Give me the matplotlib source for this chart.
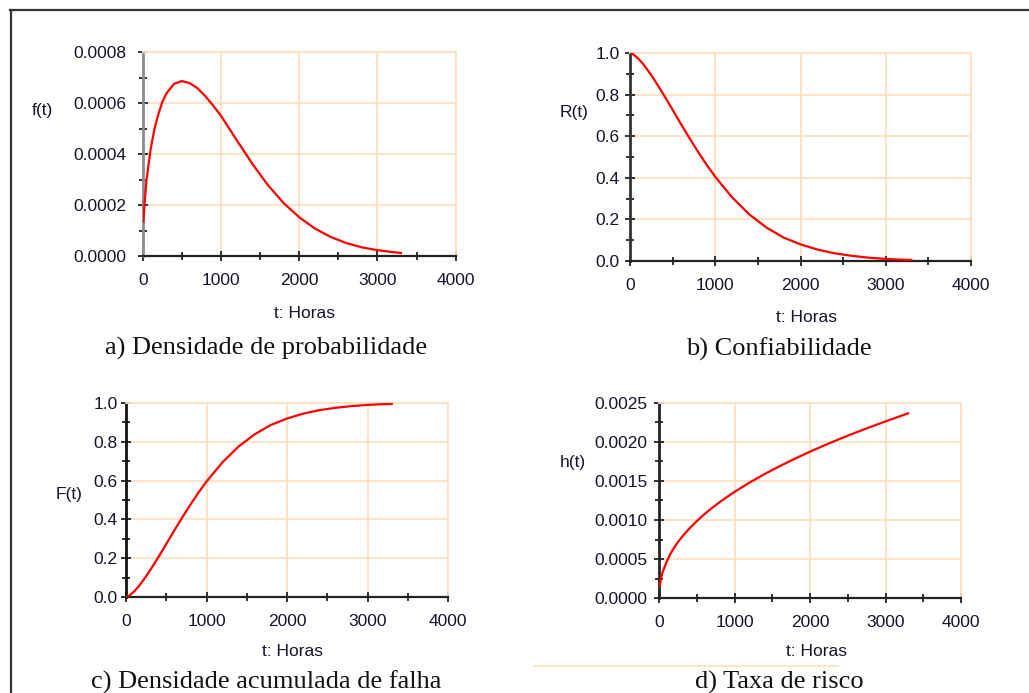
import matplotlib
matplotlib.use("Agg")
import matplotlib.pyplot as plt
from matplotlib.lines import Line2D
from matplotlib.ticker import MultipleLocator, FormatStrFormatter

# values (t in hours)
t_hours = [10, 25, 50, 100, 150, 200, 250, 300, 400, 500, 600, 700, 800, 900, 1000,
           1200, 1400, 1600, 1800, 2000, 2200, 2400, 2600, 2800, 3000, 3200, 3300]
f_density = [0.000135, 0.000213, 0.000300, 0.000416, 0.000498, 0.000556, 0.000603,
             0.000636, 0.000675, 0.000686, 0.000678, 0.000658, 0.000627, 0.000590,
             0.000550, 0.000455, 0.000362, 0.000278, 0.000208, 0.000152, 0.000108,
             0.000075, 0.000051, 0.000034, 0.000023, 0.000015, 0.000012]
r_reliab = [0.999, 0.996, 0.990, 0.972, 0.949, 0.922, 0.893, 0.862, 0.796, 0.727,
            0.657, 0.589, 0.524, 0.462, 0.405, 0.305, 0.224, 0.161, 0.113, 0.080,
            0.055, 0.037, 0.025, 0.016, 0.010, 0.006, 0.005]
f_cumul = [0.001, 0.004, 0.010, 0.028, 0.051, 0.078, 0.107, 0.138, 0.204, 0.273,
           0.343, 0.411, 0.476, 0.538, 0.595, 0.695, 0.776, 0.839, 0.887, 0.920,
           0.945, 0.963, 0.975, 0.984, 0.990, 0.994, 0.995]
h_hazard = [0.000150, 0.000245, 0.000339, 0.000460, 0.000564, 0.000645, 0.000715,
            0.000778, 0.000889, 0.000986, 0.001073, 0.001153, 0.001226, 0.001295,
            0.001360, 0.001480, 0.001590, 0.001691, 0.001786, 0.001876, 0.001961,
            0.002042, 0.002119, 0.002193, 0.002264, 0.002333, 0.002368]

ylabels = ["f(t)", "R(t)", "F(t)", "h(t)"]
captions = ["a) Densidade de probabilidade", "b) Confiabilidade",
            "c) Densidade acumulada de falha", "d) Taxa de risco"]

W, H = 1029, 693
SANS = "Liberation Sans"
SERIF = "Liberation Serif"
TXT = "#14142e"
GRID = "#fde0c2"


def px(x, y):
    return x / W, 1 - y / H


fig = plt.figure(figsize=(W / 100, H / 100), dpi=100)
fig.patch.set_facecolor("white")

# (left, top, right, bottom) in pixels, ymax, major, minor, fmt, ypad, yspine colour
panels = [
    ((142.7, 52, 455.7, 256), f_density, 0.0008, 0.0002, 0.0001, "%.4f", 8.4, "#8c8c8c"),
    ((630, 53, 971, 261), r_reliab, 1.0, 0.2, 0.1, "%.1f", 4.1, "#333333"),
    ((126, 403, 448, 597), f_cumul, 1.0, 0.2, 0.1, "%.1f", 2.3, "#111111"),
    ((659, 403, 961, 598), h_hazard, 0.0025, 0.0005, 0.00025, "%.4f", 4.9, "#222222"),
]

for (l, t, r, b), yvals, ymax, major, minor, fmt, ypad, ycol in panels:
    x0, y0 = px(l, b)
    ax = fig.add_axes([x0, y0, (r - l) / W, (b - t) / H])
    ax.plot(t_hours, yvals, color="#ff0000", lw=1.6, zorder=3)
    ax.set_xlim(0, 4000)
    ax.set_ylim(0, ymax)
    ax.xaxis.set_major_locator(MultipleLocator(1000))
    ax.xaxis.set_minor_locator(MultipleLocator(500))
    ax.yaxis.set_major_locator(MultipleLocator(major))
    ax.yaxis.set_minor_locator(MultipleLocator(minor))
    ax.yaxis.set_major_formatter(FormatStrFormatter(fmt))
    ax.grid(True, which="major", color=GRID, lw=1.3, zorder=0)
    for side in ("top", "right"):
        ax.spines[side].set_color(GRID)
        ax.spines[side].set_linewidth(1.3)
    ax.spines["bottom"].set_color("#222222")
    ax.spines["bottom"].set_linewidth(1.6)
    ax.spines["left"].set_color(ycol)
    ax.spines["left"].set_linewidth(2.0)
    ax.tick_params(which="both", direction="inout", color="#222222", width=1.3)
    ax.tick_params(which="major", length=7)
    ax.tick_params(which="minor", length=6)
    ax.tick_params(axis="x", which="major", pad=8.5, labelsize=12.5, labelcolor=TXT)
    ax.tick_params(axis="y", which="major", pad=ypad, labelsize=12.5, labelcolor=TXT)
    for lab in ax.get_xticklabels() + ax.get_yticklabels():
        lab.set_fontfamily(SANS)

# axis labels placed where they sit in the original
ylab_pos = [(42, 111), (574, 112), (69, 495), (573, 462)]
xlab_pos = [(304, 313), (806, 318), (293, 652), (817, 652)]
cap_pos = [(266, 355), (779, 356), (266, 689), (779, 689)]

for (x, y), txt in zip(ylab_pos, ylabels):
    fig.text(*px(x, y), txt, ha="center", va="center", fontsize=12.5,
             family=SANS, color=TXT)
for x, y in xlab_pos:
    fig.text(*px(x, y), "t: Horas", ha="center", va="center", fontsize=12.5,
             family=SANS, color=TXT)
for (x, y), txt in zip(cap_pos, captions):
    fig.text(*px(x, y), txt, ha="center", va="baseline", fontsize=19,
             family=SERIF, color="#111111")

# page frame and the thin rule above caption d
fig.add_artist(Line2D([10 / W, 1], [1 - 9.5 / H] * 2, color="#333333", lw=1.6))
fig.add_artist(Line2D([10.5 / W] * 2, [0, 1 - 9.5 / H], color="#333333", lw=1.6))
fig.add_artist(Line2D([535 / W, 838 / W], [1 - 666 / H] * 2, color=GRID, lw=1.3))

fig.savefig("out.png", dpi=100)
